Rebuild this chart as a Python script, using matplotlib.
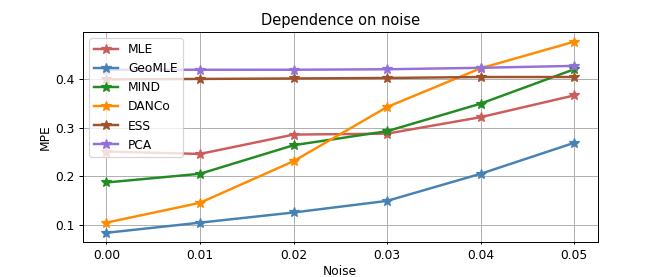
import numpy as np
import matplotlib
matplotlib.use('Agg')
import matplotlib.pyplot as plt

noise = [0.00, 0.01, 0.02, 0.03, 0.04, 0.05]
mle = [0.251, 0.246, 0.286, 0.288, 0.322, 0.367]
geomle = [0.083, 0.104, 0.125, 0.149, 0.205, 0.269]
mind = [0.187, 0.205, 0.264, 0.293, 0.350, 0.421]
danco = [0.104, 0.145, 0.231, 0.343, 0.423, 0.478]
ess = [0.400, 0.401, 0.402, 0.403, 0.405, 0.405]
pca = [0.420, 0.420, 0.420, 0.421, 0.424, 0.428]

series = [('MLE', mle, 'indianred'),
          ('GeoMLE', geomle, 'steelblue'),
          ('MIND', mind, 'forestgreen'),
          ('DANCo', danco, 'darkorange'),
          ('ESS', ess, 'sienna'),
          ('PCA', pca, 'mediumpurple')]

dpi = 88
fig = plt.figure(figsize=(664.0 / dpi, 277.0 / dpi), dpi=dpi)
ax = fig.add_subplot(111)
for name, vals, c in series:
    ax.plot(noise, vals, '-*', color=c, label=name, lw=2, markersize=8)
ax.set_xticks(noise)
ax.set_xticklabels(['%.2f' % n for n in noise])
ax.tick_params(axis='x', length=2)
ax.grid(True)
ax.legend(loc='upper left')
ax.set_title('Dependence on noise')
ax.set_xlabel('Noise', labelpad=2)
ax.set_ylabel('MPE', labelpad=3)
fig.subplots_adjust(left=0.125, right=0.9, top=0.884, bottom=0.125)
plt.savefig('out.png', dpi=dpi)
plt.close()
